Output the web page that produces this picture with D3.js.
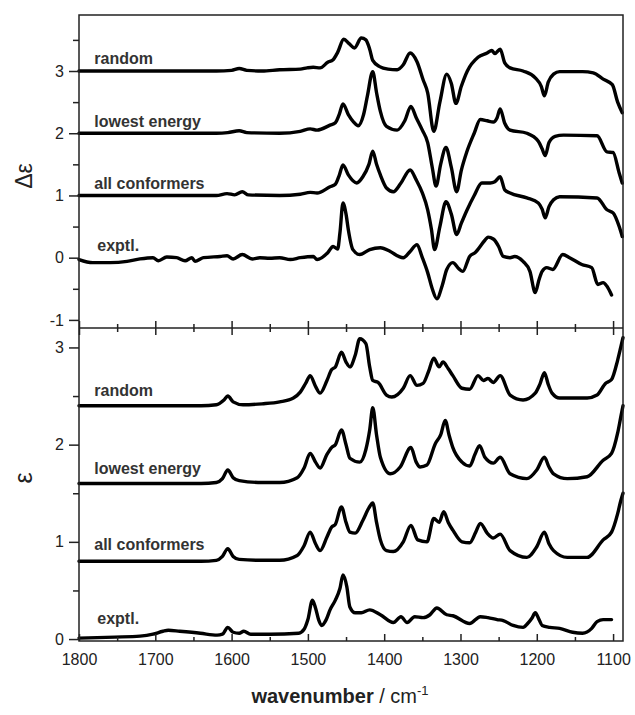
<!DOCTYPE html>
<html>
<head>
<meta charset="utf-8">
<script src="https://cdn.jsdelivr.net/npm/d3@7/dist/d3.min.js"></script>
<style>
  html, body { margin: 0; padding: 0; background: #fff; }
  svg { display: block; }
  text { font-family: "Liberation Sans", Arial, sans-serif; }
</style>
</head>
<body>
<svg id="chart" width="635" height="715"></svg>
<script>
// ---------------- DATA ----------------
// x ticks
const xTickLabels = [1800, 1700, 1600, 1500, 1400, 1300, 1200, 1100];
const xMinorTicks = [1750, 1650, 1550, 1450, 1350, 1250, 1150];
const topYTicks = [-1, 0, 1, 2, 3];
const topYMinor = [-0.5, 0.5, 1.5, 2.5, 3.5];
const botYTicks = [0, 1, 2, 3];
const botYMinor = [0.5, 1.5, 2.5];

const seriesNames = ["random", "lowest energy", "all conformers", "exptl."];

// top panel (Δε), values with vertical offsets 3,2,1,0 included
const cdRandom = [[1800,3.0],[1700,3.0],[1620,3.0],[1600,3.01],[1590,3.04],[1580,3.01],[1560,3.0],[1537,3.02],[1510,3.03],[1501,3.05],[1493,3.06],[1484,3.05],[1474,3.14],[1467,3.18],[1461,3.3],[1453,3.51],[1446,3.44],[1439,3.37],[1430,3.53],[1424,3.5],[1419,3.35],[1415,3.17],[1406,3.07],[1395,3.03],[1383,3.02],[1375,3.1],[1366,3.29],[1357,3.15],[1349,2.86],[1343,2.65],[1335,2.03],[1327,2.5],[1318,2.95],[1312,2.8],[1306,2.48],[1299,2.75],[1291,3.0],[1277,3.22],[1265,3.29],[1259,3.33],[1255,3.28],[1248,3.35],[1242,3.13],[1235,3.05],[1218,3.0],[1202,2.89],[1194,2.75],[1190,2.6],[1185,2.82],[1178,2.95],[1170,2.99],[1140,2.99],[1126,2.97],[1113,2.87],[1101,2.78],[1094,2.5],[1088,2.33]];
const cdLowest = [[1800,2.0],[1620,2.0],[1605,2.01],[1590,2.04],[1580,2.01],[1537,2.0],[1510,2.03],[1497,2.07],[1488,2.05],[1471,2.13],[1464,2.17],[1459,2.3],[1454,2.47],[1447,2.3],[1440,2.18],[1434,2.12],[1427,2.3],[1422,2.6],[1415,2.99],[1410,2.65],[1405,2.35],[1397,2.11],[1383,2.05],[1373,2.2],[1365,2.43],[1358,2.25],[1350,2.05],[1343,1.85],[1337,1.45],[1332,1.15],[1326,1.5],[1319,1.77],[1312,1.45],[1305,1.06],[1299,1.4],[1292,1.69],[1282,2.0],[1274,2.22],[1265,2.2],[1257,2.18],[1252,2.25],[1248,2.39],[1242,2.16],[1235,2.05],[1213,2.0],[1198,1.87],[1193,1.75],[1189,1.64],[1184,1.85],[1176,1.95],[1165,1.97],[1121,1.96],[1108,1.7],[1100,1.69],[1092,1.36],[1088,1.2]];
const cdAll = [[1800,1.0],[1620,1.0],[1606,1.03],[1596,1.01],[1586,1.06],[1578,1.01],[1537,1.0],[1510,1.02],[1497,1.05],[1488,1.04],[1471,1.14],[1464,1.18],[1459,1.32],[1454,1.49],[1447,1.33],[1436,1.2],[1428,1.3],[1420,1.5],[1415,1.71],[1410,1.5],[1405,1.33],[1397,1.12],[1388,1.06],[1378,1.2],[1366,1.41],[1358,1.25],[1350,1.04],[1343,0.77],[1338,0.45],[1334,0.13],[1327,0.5],[1319,0.9],[1312,0.7],[1305,0.37],[1299,0.55],[1292,0.75],[1282,1.0],[1272,1.2],[1261,1.2],[1255,1.22],[1248,1.3],[1242,1.09],[1235,1.04],[1213,0.96],[1198,0.88],[1193,0.78],[1189,0.64],[1184,0.82],[1178,0.93],[1170,0.98],[1121,0.96],[1108,0.77],[1100,0.72],[1092,0.5],[1088,0.34]];
const cdExptl = [[1800,-0.03],[1782,-0.08],[1759,-0.08],[1737,-0.06],[1720,-0.02],[1703,0.0],[1696,-0.05],[1685,0.01],[1672,0.0],[1661,-0.05],[1652,0.0],[1648,-0.06],[1637,0.0],[1615,0.02],[1606,0.03],[1598,-0.02],[1586,0.05],[1573,-0.02],[1563,0.0],[1550,-0.01],[1537,0.0],[1523,-0.03],[1510,0.0],[1493,0.02],[1488,-0.03],[1474,0.08],[1467,0.18],[1461,0.14],[1458,0.4],[1454,0.88],[1450,0.7],[1447,0.45],[1441,0.13],[1432,0.05],[1419,0.13],[1405,0.16],[1392,0.1],[1381,0.02],[1375,0.0],[1366,0.1],[1357,0.21],[1350,0.0],[1343,-0.24],[1337,-0.5],[1331,-0.66],[1324,-0.45],[1318,-0.19],[1310,-0.08],[1302,-0.18],[1297,-0.22],[1288,0.02],[1281,0.08],[1268,0.28],[1264,0.33],[1257,0.3],[1250,0.18],[1244,0.02],[1235,0.0],[1229,0.02],[1218,-0.06],[1209,-0.22],[1202,-0.56],[1197,-0.35],[1193,-0.22],[1187,-0.16],[1179,-0.19],[1166,0.05],[1157,0.0],[1141,-0.11],[1128,-0.16],[1120,-0.43],[1113,-0.4],[1108,-0.46],[1102,-0.6]];

// bottom panel (ε), values with vertical offsets 2.4,1.6,0.8,0 included
const irRandom = [[1800,2.4],[1640,2.4],[1620,2.41],[1610,2.46],[1605,2.5],[1598,2.44],[1585,2.41],[1560,2.42],[1537,2.44],[1519,2.48],[1510,2.54],[1503,2.63],[1497,2.71],[1490,2.6],[1484,2.53],[1475,2.66],[1469,2.77],[1464,2.8],[1456,2.95],[1450,2.85],[1445,2.8],[1438,2.92],[1432,3.09],[1424,3.04],[1419,2.8],[1415,2.66],[1408,2.64],[1397,2.51],[1390,2.49],[1375,2.58],[1366,2.71],[1357,2.61],[1349,2.63],[1342,2.75],[1335,2.89],[1328,2.8],[1323,2.85],[1316,2.78],[1310,2.71],[1298,2.58],[1288,2.57],[1277,2.71],[1270,2.66],[1264,2.68],[1257,2.64],[1248,2.71],[1235,2.51],[1218,2.46],[1202,2.53],[1196,2.62],[1190,2.74],[1185,2.62],[1180,2.53],[1170,2.48],[1134,2.48],[1121,2.51],[1110,2.63],[1102,2.67],[1094,2.87],[1090,3.0],[1087,3.1]];
const irLowest = [[1800,1.6],[1640,1.6],[1620,1.61],[1612,1.65],[1605,1.74],[1598,1.66],[1590,1.63],[1560,1.61],[1537,1.61],[1514,1.66],[1505,1.76],[1497,1.91],[1490,1.82],[1484,1.76],[1475,1.9],[1469,1.97],[1464,2.0],[1456,2.15],[1450,2.0],[1445,1.86],[1432,1.82],[1424,1.95],[1419,2.15],[1415,2.38],[1410,2.1],[1405,1.87],[1392,1.7],[1379,1.77],[1365,1.97],[1358,1.82],[1353,1.77],[1344,1.79],[1333,2.01],[1326,2.1],[1320,2.25],[1315,2.1],[1310,1.97],[1298,1.82],[1288,1.78],[1281,1.9],[1275,1.99],[1268,1.87],[1257,1.81],[1248,1.87],[1235,1.7],[1213,1.65],[1200,1.74],[1190,1.87],[1184,1.77],[1178,1.7],[1160,1.65],[1134,1.67],[1113,1.84],[1102,1.91],[1094,2.12],[1090,2.28],[1087,2.4]];
const irAll = [[1800,0.8],[1640,0.8],[1620,0.81],[1612,0.85],[1605,0.93],[1598,0.85],[1590,0.82],[1560,0.81],[1537,0.81],[1514,0.86],[1505,0.96],[1497,1.1],[1490,0.98],[1484,0.91],[1475,1.05],[1469,1.15],[1464,1.18],[1456,1.36],[1450,1.2],[1445,1.1],[1438,1.09],[1428,1.22],[1420,1.35],[1415,1.4],[1410,1.2],[1405,1.02],[1397,0.91],[1388,0.9],[1375,1.0],[1365,1.17],[1356,1.02],[1344,1.0],[1335,1.24],[1328,1.2],[1322,1.31],[1316,1.2],[1310,1.12],[1298,1.0],[1288,0.99],[1280,1.1],[1274,1.19],[1265,1.09],[1257,1.04],[1248,1.08],[1235,0.91],[1213,0.84],[1200,0.95],[1190,1.1],[1184,0.98],[1178,0.91],[1160,0.84],[1134,0.84],[1113,1.02],[1102,1.1],[1094,1.29],[1090,1.42],[1087,1.5]];
const irExptl = [[1800,0.01],[1753,0.02],[1720,0.03],[1703,0.05],[1690,0.08],[1683,0.09],[1668,0.08],[1641,0.06],[1619,0.04],[1612,0.05],[1605,0.12],[1598,0.07],[1590,0.06],[1584,0.08],[1575,0.05],[1550,0.05],[1512,0.06],[1505,0.1],[1500,0.2],[1494,0.4],[1490,0.32],[1486,0.2],[1482,0.14],[1476,0.2],[1471,0.3],[1464,0.4],[1458,0.52],[1454,0.66],[1449,0.54],[1445,0.33],[1438,0.27],[1430,0.27],[1419,0.3],[1405,0.25],[1388,0.17],[1378,0.23],[1370,0.17],[1360,0.23],[1349,0.22],[1340,0.25],[1331,0.32],[1318,0.25],[1310,0.24],[1288,0.16],[1274,0.23],[1264,0.22],[1252,0.2],[1244,0.19],[1231,0.14],[1218,0.12],[1212,0.16],[1206,0.22],[1202,0.27],[1197,0.2],[1193,0.14],[1183,0.12],[1170,0.11],[1153,0.07],[1140,0.06],[1128,0.11],[1121,0.18],[1113,0.2],[1102,0.2]];

// label anchor values (y position in data units for each series label)
const topLabelY = [3.12, 2.1, 1.1, 0.1];
const botLabelY = [2.5, 1.7, 0.92, 0.16];

// ---------------- LAYOUT ----------------
const L = 79, R = 623, T = 15, MID = 328, B = 641;
const svg = d3.select("#chart");

const x = d3.scaleLinear().domain([1800, 1087]).range([L, R]);
const yTop = d3.scaleLinear().domain([-1.13, 3.9]).range([MID, T]);
const yBot = d3.scaleLinear().domain([-0.02, 3.2]).range([B, MID]);

function drawPanel(y, series, ticks, minor, labelY) {
  const g = svg.append("g");
  const line = d3.line().x(d => x(d[0])).y(d => y(d[1])).curve(d3.curveMonotoneX);
  series.forEach(s => {
    g.append("path").datum(s).attr("d", line)
      .attr("fill", "none").attr("stroke", "#000").attr("stroke-width", 3.4)
      .attr("stroke-linejoin", "round").attr("stroke-linecap", "round");
  });
  // labels
  seriesNames.forEach((n, i) => {
    g.append("text").attr("x", x(n === "exptl." ? 1776 : 1780)).attr("y", y(labelY[i]))
      .attr("font-size", 16).attr("font-weight", "bold").attr("fill", "#333").text(n);
  });
  // y axis major
  const ya = d3.axisLeft(y).tickValues(ticks).tickSize(10).tickPadding(5)
    .tickFormat(d3.format("d"));
  const gy = svg.append("g").attr("transform", `translate(${L},0)`).call(ya);
  gy.select(".domain").remove();
  gy.selectAll("line").attr("stroke", "#222").attr("stroke-width", 1.5);
  gy.selectAll("text").attr("font-size", 16).attr("fill", "#222")
    .attr("font-family", "Liberation Sans, Arial, sans-serif").text(d => d < 0 ? "-" + Math.abs(d) : d);
  const ym = d3.axisLeft(y).tickValues(minor).tickSize(6).tickFormat("");
  const gym = svg.append("g").attr("transform", `translate(${L},0)`).call(ym);
  gym.select(".domain").remove();
  gym.selectAll("line").attr("stroke", "#222").attr("stroke-width", 1.5);
}

drawPanel(yTop, [cdRandom, cdLowest, cdAll, cdExptl], topYTicks, topYMinor, topLabelY);
drawPanel(yBot, [irRandom, irLowest, irAll, irExptl], botYTicks, botYMinor, botLabelY);

function xTicksAt(yPos, dir) {
  const mk = () => (dir < 0 ? d3.axisTop(x) : d3.axisBottom(x));
  const g = svg.append("g").attr("transform", `translate(0,${yPos})`)
    .call(mk().tickValues(xTickLabels).tickSize(7).tickFormat(""));
  g.select(".domain").remove();
  g.selectAll("line").attr("stroke", "#222").attr("stroke-width", 1.5);
  const gm = svg.append("g").attr("transform", `translate(0,${yPos})`)
    .call(mk().tickValues(xMinorTicks).tickSize(4).tickFormat(""));
  gm.select(".domain").remove();
  gm.selectAll("line").attr("stroke", "#222").attr("stroke-width", 1.5);
}
xTicksAt(MID, 1);   // ticks pointing down into lower panel
xTicksAt(MID, -1);  // ticks pointing up into upper panel
xTicksAt(B, -1);    // ticks pointing up from bottom axis
// bottom labels
const gxl = svg.append("g").attr("transform", `translate(0,${B})`)
  .call(d3.axisBottom(x).tickValues(xTickLabels).tickSize(0).tickPadding(13).tickFormat(d3.format("d")));
gxl.select(".domain").remove();
gxl.selectAll("text").attr("font-size", 16).attr("fill", "#222").attr("font-family", "Liberation Sans, Arial, sans-serif");

// frames
svg.append("rect").attr("x", L).attr("y", T).attr("width", R - L).attr("height", B - T)
  .attr("fill", "none").attr("stroke", "#222").attr("stroke-width", 1.5);
svg.append("line").attr("x1", L).attr("x2", R).attr("y1", MID).attr("y2", MID)
  .attr("stroke", "#222").attr("stroke-width", 1.5);

// axis titles
svg.append("text").attr("transform", `translate(32,176) rotate(-90)`).attr("text-anchor", "middle")
  .attr("font-size", 23).attr("fill", "#222").text("Δε");
svg.append("text").attr("transform", `translate(32,478) rotate(-90)`).attr("text-anchor", "middle")
  .attr("font-size", 25).attr("fill", "#222").text("ε");
const xt = svg.append("text").attr("x", 340).attr("y", 703).attr("text-anchor", "middle")
  .attr("font-size", 20).attr("fill", "#222");
xt.append("tspan").attr("font-weight", "bold").text("wavenumber");
xt.append("tspan").text(" / cm");
xt.append("tspan").attr("font-size", 13).attr("dy", -8).text("-1");
</script>
</body>
</html>
